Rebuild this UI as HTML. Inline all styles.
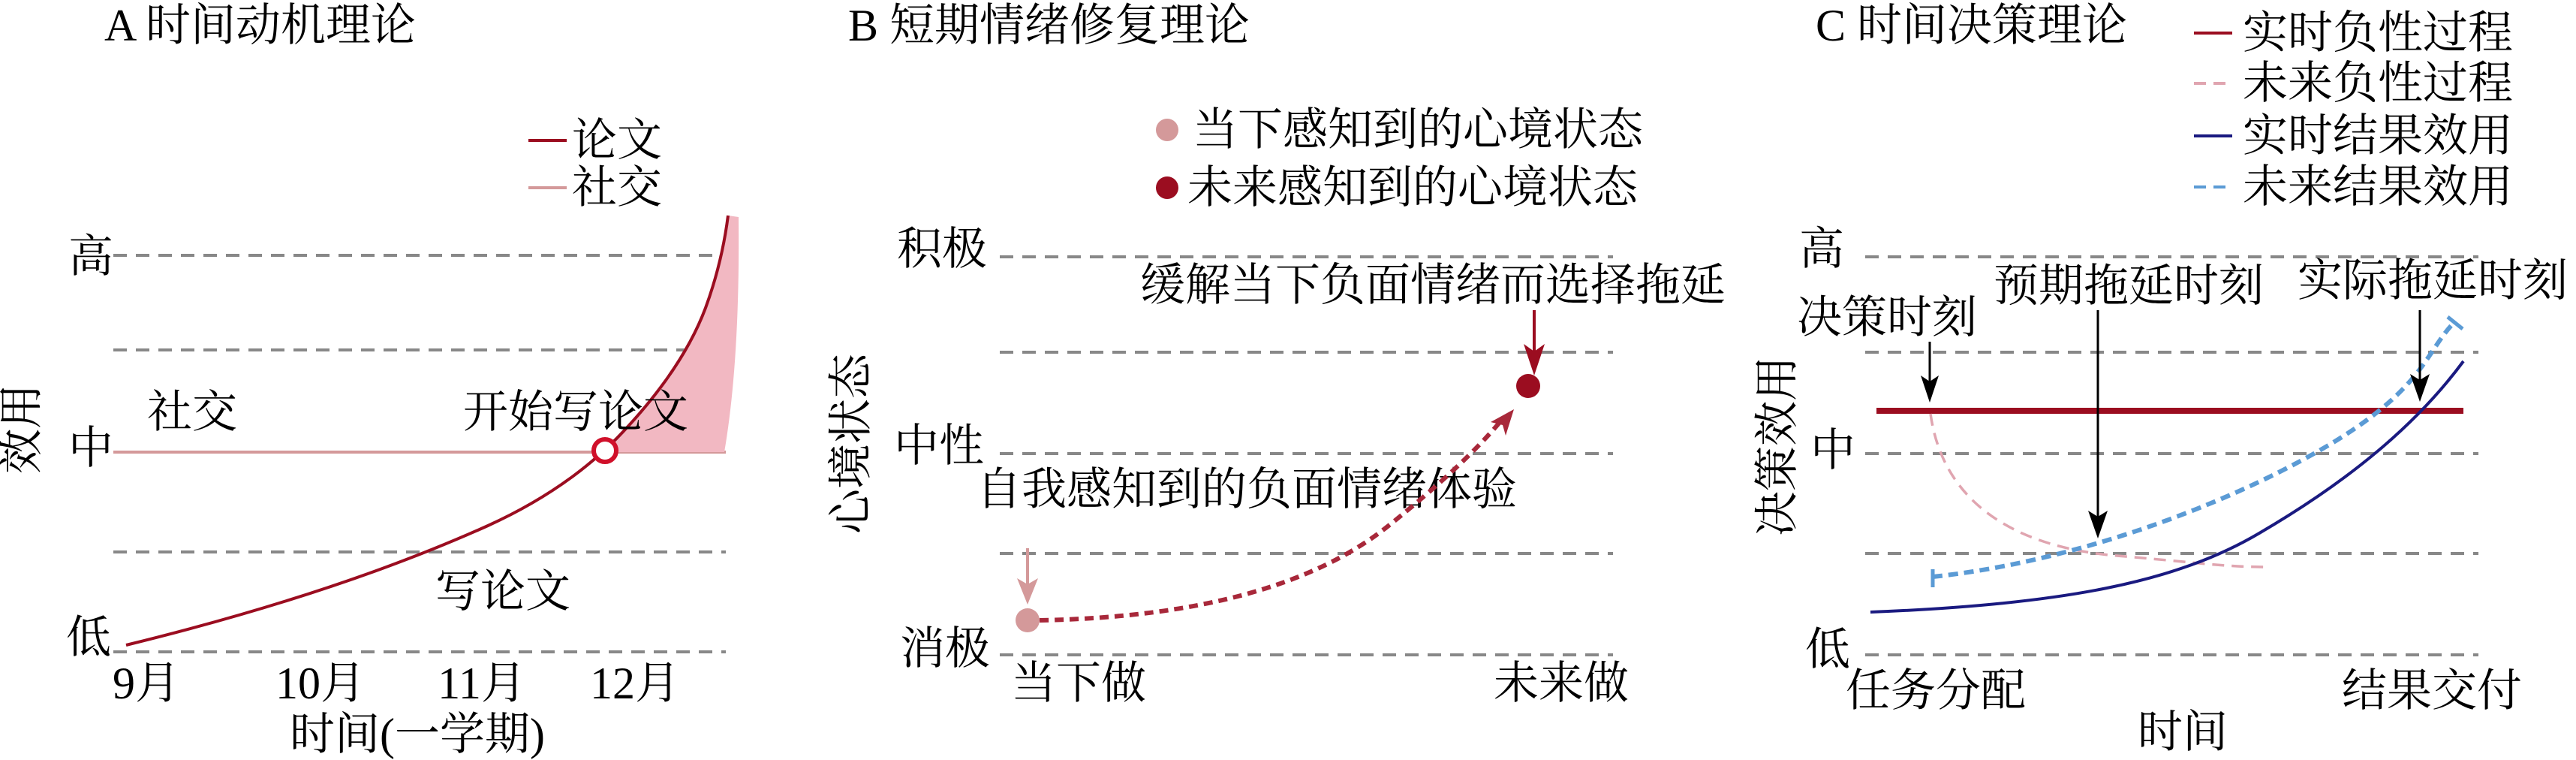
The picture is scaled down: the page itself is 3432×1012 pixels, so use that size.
<!DOCTYPE html>
<html><head><meta charset="utf-8"><style>
html,body{margin:0;padding:0;background:#fff;width:3432px;height:1012px;overflow:hidden}
text{font-family:"Liberation Serif","Noto Serif CJK SC",serif;font-size:60px;fill:#000;dominant-baseline:central}
.g{stroke:#888;stroke-width:4;stroke-dasharray:18 12;fill:none}
</style></head><body>
<svg width="3432" height="1012" viewBox="0 0 3432 1012" xmlns="http://www.w3.org/2000/svg">
<!-- Panel A -->
<text x="139" y="34">A 时间动机理论</text>
<line class="g" x1="151" y1="340" x2="967" y2="340"/>
<line class="g" x1="151" y1="466" x2="967" y2="466"/>
<line class="g" x1="151" y1="735" x2="967" y2="735"/>
<line class="g" x1="151" y1="868" x2="967" y2="868"/>
<line x1="151" y1="602" x2="967" y2="602" stroke="#d4999a" stroke-width="4"/>
<path d="M806,602 L830,575 Q910,490 940,410 Q962,350 970,287 L984,289 Q986,480 965,602 Z" fill="#f2b8c2"/>
<path d="M168,859 Q450,790 650,700 Q760,650 830,575 Q910,490 940,410 Q962,350 970,287" fill="none" stroke="#9b0d20" stroke-width="4"/>
<circle cx="806" cy="600" r="15" fill="#fff" stroke="#d0102a" stroke-width="6"/>
<line x1="704" y1="187" x2="755" y2="187" stroke="#9b0d20" stroke-width="4"/>
<text x="762" y="187">论文</text>
<line x1="704" y1="250" x2="755" y2="250" stroke="#d4999a" stroke-width="4"/>
<text x="762" y="250">社交</text>
<text x="91" y="342">高</text>
<text x="91" y="597">中</text>
<text x="88" y="849">低</text>
<text transform="translate(29,571) rotate(-90)" text-anchor="middle">效用</text>
<text x="196" y="549">社交</text>
<text x="617" y="549">开始写论文</text>
<text x="580" y="788">写论文</text>
<text x="195" y="910" text-anchor="middle">9月</text>
<text x="427" y="910" text-anchor="middle">10月</text>
<text x="642" y="910" text-anchor="middle">11月</text>
<text x="846" y="910" text-anchor="middle">12月</text>
<text x="556" y="978" text-anchor="middle">时间(一学期)</text>
<!-- Panel B -->
<text x="1130" y="34">B 短期情绪修复理论</text>
<circle cx="1555" cy="173" r="15" fill="#d4999a"/>
<text x="1589" y="173">当下感知到的心境状态</text>
<circle cx="1555" cy="250" r="15" fill="#9b0d20"/>
<text x="1582" y="250">未来感知到的心境状态</text>
<line class="g" x1="1332" y1="342" x2="2149" y2="342"/>
<line class="g" x1="1332" y1="469" x2="2149" y2="469"/>
<line class="g" x1="1332" y1="604" x2="2149" y2="604"/>
<line class="g" x1="1332" y1="737" x2="2149" y2="737"/>
<line class="g" x1="1332" y1="872" x2="2149" y2="872"/>
<text x="1195" y="332">积极</text>
<text x="1191" y="594">中性</text>
<text x="1199" y="864">消极</text>
<text transform="translate(1134,591) rotate(-90)" text-anchor="middle">心境状态</text>
<text x="1519" y="380">缓解当下负面情绪而选择拖延</text>
<text x="1301" y="652">自我感知到的负面情绪体验</text>
<line x1="2044" y1="413" x2="2044" y2="470" stroke="#9b0d20" stroke-width="4"/>
<path d="M2030,458 L2044,500 L2058,458 L2044,468 Z" fill="#9b0d20"/>
<circle cx="2036" cy="514" r="16" fill="#9b0d20"/>
<line x1="1369" y1="730" x2="1369" y2="780" stroke="#d4999a" stroke-width="4"/>
<path d="M1355,770 L1369,805 L1383,770 L1369,778 Z" fill="#d4999a"/>
<circle cx="1369" cy="826" r="16" fill="#d4999a"/>
<path d="M1385,826 Q1700,820 1850,700 Q1950,620 2000,560" fill="none" stroke="#a8283a" stroke-width="6" stroke-dasharray="12 8"/>
<path d="M1986,562 L2017,545 L2006,580 L2002,566 Z" fill="#a8283a"/>
<text x="1437" y="910" text-anchor="middle">当下做</text>
<text x="2080" y="910" text-anchor="middle">未来做</text>
<!-- Panel C -->
<text x="2419" y="34">C 时间决策理论</text>
<line x1="2923" y1="44" x2="2974" y2="44" stroke="#9b0d20" stroke-width="4"/>
<text x="2988" y="44">实时负性过程</text>
<line x1="2923" y1="111" x2="2974" y2="111" stroke="#e0a5b0" stroke-width="4" stroke-dasharray="16 10"/>
<text x="2988" y="111">未来负性过程</text>
<line x1="2923" y1="181" x2="2974" y2="181" stroke="#1a1a80" stroke-width="4"/>
<text x="2988" y="181">实时结果效用</text>
<line x1="2923" y1="249" x2="2974" y2="249" stroke="#5b9bd5" stroke-width="4" stroke-dasharray="16 10"/>
<text x="2988" y="249">未来结果效用</text>
<line class="g" x1="2485" y1="342" x2="3302" y2="342"/>
<line class="g" x1="2485" y1="469" x2="3302" y2="469"/>
<line class="g" x1="2485" y1="604" x2="3302" y2="604"/>
<line class="g" x1="2485" y1="737" x2="3302" y2="737"/>
<line class="g" x1="2485" y1="872" x2="3302" y2="872"/>
<text x="2397" y="332">高</text>
<text x="2412" y="600">中</text>
<text x="2405" y="865">低</text>
<text transform="translate(2368,594) rotate(-90)" text-anchor="middle">决策效用</text>
<line x1="2500" y1="547" x2="3282" y2="547" stroke="#9b0d20" stroke-width="8"/>
<path d="M2572,551 C2590,680 2700,730 2820,740 S2960,755 3025,755" fill="none" stroke="#e0a5b0" stroke-width="3.5" stroke-dasharray="16 10"/>
<path d="M2492,815 C2750,805 2900,775 3010,710 C3130,640 3220,565 3282,481" fill="none" stroke="#1a1a80" stroke-width="4"/>
<path d="M2575,768 C2750,750 2950,680 3090,600 S3230,470 3270,429" fill="none" stroke="#5b9bd5" stroke-width="6" stroke-dasharray="13 8"/>
<line x1="2575" y1="758" x2="2575" y2="782" stroke="#5b9bd5" stroke-width="5"/>
<line x1="3261" y1="422" x2="3281" y2="438" stroke="#5b9bd5" stroke-width="5"/>
<text x="2394" y="423">决策时刻</text>
<text x="2656" y="381">预期拖延时刻</text>
<text x="3061" y="374">实际拖延时刻</text>
<line x1="2571" y1="455" x2="2571" y2="510" stroke="#000" stroke-width="3"/>
<path d="M2559,500 L2571,536 L2583,500 L2571,508 Z" fill="#000"/>
<line x1="2795" y1="413" x2="2795" y2="690" stroke="#000" stroke-width="3"/>
<path d="M2782,680 L2795,717 L2808,680 L2795,688 Z" fill="#000"/>
<line x1="3224" y1="413" x2="3224" y2="508" stroke="#000" stroke-width="3"/>
<path d="M3211,498 L3224,535 L3237,498 L3224,506 Z" fill="#000"/>
<text x="2459" y="920">任务分配</text>
<text x="3120" y="920">结果交付</text>
<text x="2908" y="975" text-anchor="middle">时间</text>
</svg>
</body></html>
